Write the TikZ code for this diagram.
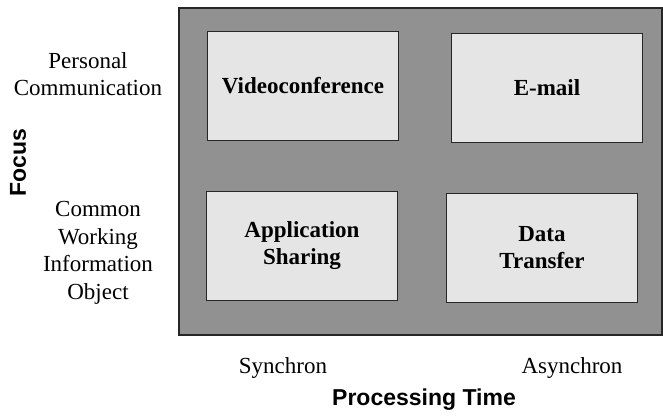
\documentclass[tikz,border=0pt]{standalone}
\usepackage{fontspec}
\setmainfont{Liberation Serif}
\setsansfont{Liberation Sans}
\definecolor{panelgray}{gray}{0.57}
\definecolor{cellgray}{gray}{0.90}
\definecolor{edgegray}{gray}{0.15}
\begin{document}
\begin{tikzpicture}[x=1pt,y=-1pt,
    cell/.style={draw=edgegray,line width=1.5pt,fill=cellgray,inner sep=0pt,
      minimum width=191pt,minimum height=109pt,align=center,
      font=\fontsize{23}{27}\selectfont\bfseries},
    side/.style={align=center,font=\fontsize{23}{27.5}\selectfont},
    axis/.style={font=\fontsize{23}{26}\selectfont\sffamily\bfseries}]
      \useasboundingbox (0,0) rectangle (663,417) ;
      \draw[edgegray,line width=2pt,fill=panelgray] (179,8) rectangle (662,335) ;
      \node[cell] (video) at (303,86) {Videoconference} ;
      \node[cell] (mail) at (547,88) {E-mail} ;
      \node[cell] (share) at (302,246) {Application\\Sharing} ;
      \node[cell] (data) at (542,248) {Data\\Transfer} ;
      \node[side] (personal) at (88,74) {Personal\\Communication} ;
      \node[side] (common) at (98,253) {Common\\Working\\Information\\Object} ;
      \node[axis,rotate=90] (focus) at (18,163) {Focus} ;
      \node[side] (sync) at (283,368) {Synchron} ;
      \node[side] (async) at (572,368) {Asynchron} ;
      \node[axis] (time) at (424,400) {Processing Time} ;
    \end{tikzpicture}
\end{document}
